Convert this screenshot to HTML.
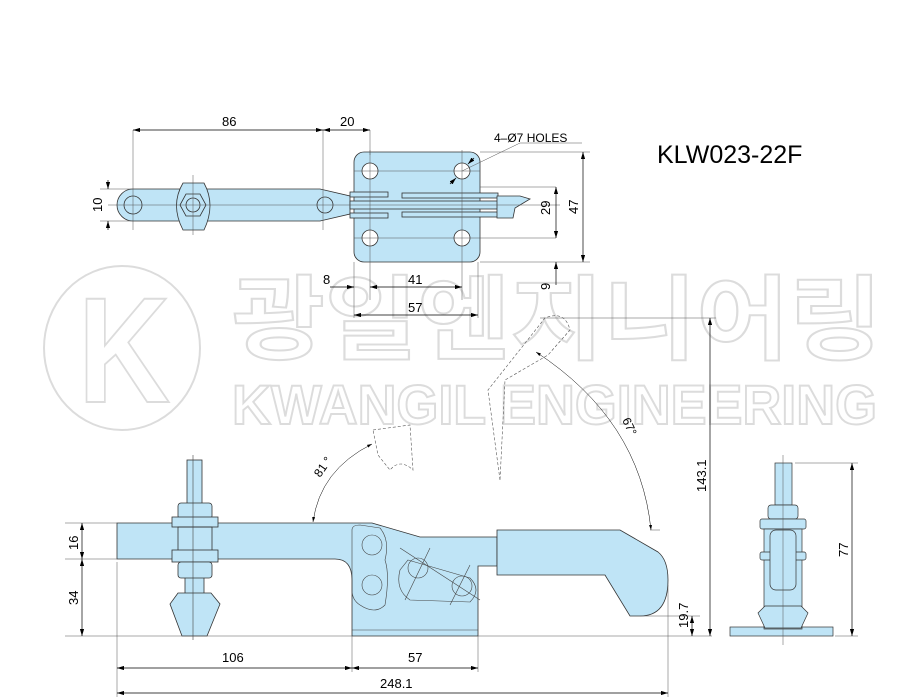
<!DOCTYPE html>
<html><head><meta charset="utf-8"><style>
html,body{margin:0;padding:0;background:#fff}
svg{display:block}
text{font-family:"Liberation Sans","Noto Sans CJK KR",sans-serif}
</style></head><body>
<svg width="921" height="700" viewBox="0 0 921 700" xmlns="http://www.w3.org/2000/svg">
<defs>
<marker id="a" viewBox="0 0 10 6" refX="10" refY="3" markerWidth="10" markerHeight="6" orient="auto-start-reverse"><path d="M0,0L10,3L0,6z" fill="#000"/></marker>
</defs>
<!-- watermark -->
<g fill="none" stroke="#dcdcdc" stroke-width="2">
<ellipse cx="122" cy="348" rx="78" ry="82"/>
<text x="78" y="402" font-size="150" font-weight="bold" textLength="92" lengthAdjust="spacingAndGlyphs">K</text>
<text x="232" y="352" font-size="92" font-weight="bold" textLength="650" lengthAdjust="spacingAndGlyphs" font-family="'Noto Sans CJK KR',sans-serif">광일엔지니어링</text>
<text x="232" y="424" font-size="56" font-weight="bold" textLength="645" lengthAdjust="spacingAndGlyphs">KWANGIL ENGINEERING</text>
</g>
<text x="657" y="163" font-size="25" fill="#000">KLW023-22F</text>

<!-- TOP VIEW -->
<g stroke="#333" stroke-width="0.8" fill="#bfe4f6">
<rect x="354" y="152" width="126" height="110" rx="10"/>
<path d="M133,189 L320,189 L350,196 L350,214 L320,221 L133,221 A16,16 0 0 1 133,189z"/>
<path d="M183,183 L204,183 Q216,205 204,230 L183,230 Q170,205 183,183z"/>
<polygon points="180,205 186,194 200,194 206,205 200,216 186,216"/>
<circle cx="193" cy="205" r="7"/>
<rect x="350" y="201" width="148" height="8"/>
<rect x="350" y="192" width="38" height="5"/><rect x="350" y="213" width="38" height="5"/>
<rect x="402" y="193" width="96" height="5"/><rect x="402" y="212" width="96" height="5"/>
<path d="M497,196 L520,196 L530,199 L515,208 L513,218 L497,218z"/>
<g fill="#fff"><circle cx="370" cy="171" r="8"/><circle cx="462" cy="171" r="8"/><circle cx="370" cy="238" r="8"/><circle cx="462" cy="238" r="8"/></g>
<circle cx="133" cy="205" r="9"/><circle cx="325" cy="205" r="8"/>
</g>
<g stroke="#555" stroke-width="0.5" fill="none">
<path d="M108,205 H560 M370,150 V300 M462,150 V300 M354,171 H480 M354,238 H480 M193,175 V235 M133,130 V230 M323,130 V230 M370,130 V155 M354,262 V318 M478,262 V318 M480,152 H590 M480,262 H590 M480,187 H556 M480,238 H556 M100,189 H133 M100,221 H133"/>
<path d="M462,171 L520,143 H582"/>
</g>
<g stroke="#000" stroke-width="0.7" fill="none">
<line x1="133" y1="130" x2="323" y2="130" marker-start="url(#a)" marker-end="url(#a)"/>
<line x1="323" y1="130" x2="370" y2="130" marker-start="url(#a)" marker-end="url(#a)"/>
<line x1="108" y1="180" x2="108" y2="189" marker-end="url(#a)"/><line x1="108" y1="230" x2="108" y2="221" marker-end="url(#a)"/>
<line x1="556" y1="187" x2="556" y2="238" marker-start="url(#a)" marker-end="url(#a)"/>
<line x1="583" y1="152" x2="583" y2="262" marker-start="url(#a)" marker-end="url(#a)"/>
<line x1="556" y1="285" x2="556" y2="262" marker-end="url(#a)"/>
<line x1="330" y1="287" x2="354" y2="287" marker-end="url(#a)"/>
<line x1="370" y1="287" x2="462" y2="287" marker-start="url(#a)" marker-end="url(#a)"/>
<line x1="354" y1="315" x2="478" y2="315" marker-start="url(#a)" marker-end="url(#a)"/>
<line x1="450" y1="184" x2="456" y2="178" marker-end="url(#a)"/>
<line x1="474" y1="158" x2="468" y2="164" marker-end="url(#a)"/>
</g>
<g font-size="13" fill="#000">
<text x="222" y="126">86</text><text x="340" y="126">20</text>
<text x="494" y="142" font-size="12">4–Ø7 HOLES</text>
<text x="323" y="284">8</text><text x="408" y="284">41</text><text x="408" y="312">57</text>
<text transform="translate(102,212) rotate(-90)">10</text>
<text transform="translate(550,215) rotate(-90)">29</text>
<text transform="translate(578,214) rotate(-90)">47</text>
<text transform="translate(550,290) rotate(-90)">9</text>
</g>

<!-- SIDE VIEW -->
<g stroke="#333" stroke-width="0.8" fill="#bfe4f6">
<rect x="187" y="460" width="15" height="45"/>
<rect x="185" y="576" width="19" height="20"/>
<path d="M178,593 L211,593 L220,604 L207,636 L182,636 L170,604z"/>
<path d="M117,523 L372,523 L420,537 L497,537 L497,566 L478,566 L478,636 L352,636 L352,580 Q352,559 335,559 L117,559z"/>
<path d="M497,530 L620,530 L658,552 Q668,560 668,580 Q668,616 640,616 L630,616 L605,575 L497,575z"/>
<rect x="178" y="503" width="34" height="16" rx="3"/>
<rect x="172" y="517" width="46" height="10"/>
<rect x="178" y="527" width="34" height="32" fill="none"/>
<rect x="172" y="550" width="46" height="12"/>
<rect x="178" y="562" width="34" height="16" rx="3"/>
</g>
<g stroke="#444" stroke-width="0.6" fill="none">
<circle cx="372" cy="545" r="10"/><circle cx="372" cy="585" r="10"/>
<circle cx="418" cy="568" r="10"/><circle cx="462" cy="586" r="10"/>
<path d="M352,530 Q352,525 360,525 L380,528 Q390,540 385,560 Q390,575 385,605 Q375,615 360,605 Q352,600 352,590z"/>
<path d="M408,560 L470,578 Q482,590 470,602 L410,600 Q395,590 400,570z"/>
<path d="M352,630 H478 M193,455 V640 M400,548 L480,600 M405,600 L430,548 M450,605 L470,565"/>
</g>
<!-- ghost positions -->
<g stroke="#555" stroke-width="0.6" fill="none" stroke-dasharray="3,2">
<path d="M373,430 L410,425 L413,470 Q400,458 390,470 L378,455z"/>
<path d="M500,480 L488,390 L545,318 Q565,310 570,330 L548,355 L505,380 L500,480"/>
</g>
<!-- dims side -->
<g stroke="#555" stroke-width="0.5" fill="none">
<path d="M65,523 H117 M65,559 H117 M65,636 H352 M478,636 H712 M117,562 V697 M352,636 V672 M478,636 V672 M668,585 V697 M640,616 H700 M540,318 H716 M650,530 H660"/>
</g>
<g stroke="#000" stroke-width="0.7" fill="none">
<line x1="82" y1="523" x2="82" y2="559" marker-start="url(#a)" marker-end="url(#a)"/>
<line x1="82" y1="559" x2="82" y2="636" marker-start="url(#a)" marker-end="url(#a)"/>
<line x1="117" y1="668" x2="352" y2="668" marker-start="url(#a)" marker-end="url(#a)"/>
<line x1="352" y1="668" x2="478" y2="668" marker-start="url(#a)" marker-end="url(#a)"/>
<line x1="117" y1="693" x2="668" y2="693" marker-start="url(#a)" marker-end="url(#a)"/>
<line x1="710" y1="318" x2="710" y2="636" marker-start="url(#a)" marker-end="url(#a)"/>
<line x1="692" y1="616" x2="692" y2="636" marker-start="url(#a)" marker-end="url(#a)"/>
<path d="M313,522 Q320,470 372,444" marker-start="url(#a)" marker-end="url(#a)" stroke-width="0.5"/>
<path d="M536,352 Q640,420 651,530" marker-start="url(#a)" marker-end="url(#a)" stroke-width="0.5"/>
</g>
<g font-size="13" fill="#000">
<text x="222" y="662">106</text><text x="408" y="662">57</text><text x="380" y="688">248.1</text>
<text transform="translate(78,550) rotate(-90)">16</text>
<text transform="translate(78,605) rotate(-90)">34</text>
<text transform="translate(706,492) rotate(-90)">143.1</text>
<text transform="translate(688,628) rotate(-90)">19.7</text>
<text transform="translate(320,478) rotate(-55)" font-size="12">81 °</text>
<text transform="translate(622,420) rotate(65)" font-size="12">67°</text>
</g>

<!-- END VIEW -->
<g stroke="#333" stroke-width="0.7" fill="#bfe4f6">
<rect x="730" y="627" width="103" height="9"/>
<rect x="775" y="463" width="17" height="42"/>
<rect x="768" y="505" width="30" height="14" rx="3"/>
<rect x="760" y="519" width="46" height="10" rx="2"/>
<rect x="764" y="529" width="38" height="100"/>
<rect x="760" y="552" width="46" height="8" rx="2"/>
<path d="M765,606 L801,606 L808,613 L801,628 L765,628 L758,613z"/>
<rect x="770" y="530" width="26" height="60" rx="6"/>
</g>
<g stroke="#555" stroke-width="0.5" fill="none">
<path d="M783,455 V645 M795,463 H858 M835,636 H858"/>
</g>
<line x1="852" y1="463" x2="852" y2="636" stroke="#000" stroke-width="0.7" marker-start="url(#a)" marker-end="url(#a)"/>
<text transform="translate(848,557) rotate(-90)" font-size="13">77</text>
</svg>
</body></html>
